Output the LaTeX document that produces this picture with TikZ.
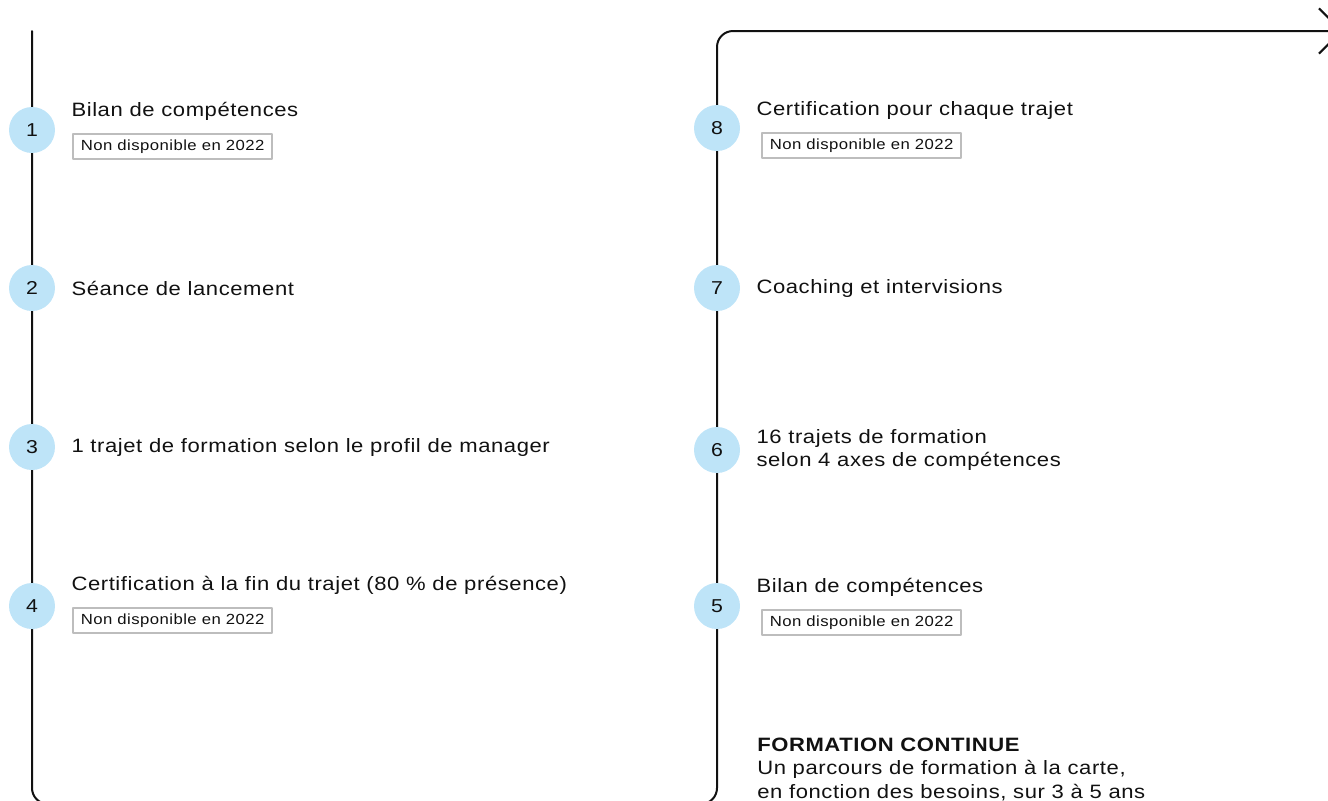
\documentclass[tikz,border=0pt]{standalone}
\usepackage{fontspec}
\setmainfont{Liberation Sans}[FakeStretch=1.14,LetterSpace=3]
\usetikzlibrary{arrows.meta,positioning}
\definecolor{dotblue}{HTML}{BEE4F8}
\definecolor{taggray}{HTML}{BDBDBD}
\definecolor{ink}{HTML}{111111}
\tikzset{
  every picture/.style={line join=round, line cap=round, text=ink},
  track/.style={line width=1.5pt, draw=ink, rounded corners=12pt},
  dot/.style={circle, fill=dotblue, minimum size=34.5pt, inner sep=0pt, font=\fontsize{14}{16}\selectfont},
  itemtext/.style={inner sep=0pt, align=left, font=\fontsize{14.5}{17.25}\selectfont},
  tagbox/.style={draw=taggray, line width=1.3pt, inner xsep=5.8pt, minimum height=18.75pt, font=\fontsize{11}{12}\selectfont},
}
\begin{document}
\begin{tikzpicture}[x=0.75pt,y=-0.75pt]
\useasboundingbox (0,0) rectangle (1328,800);
% the track
\coordinate (start) at (32,31);
\coordinate (tip) at (1343,31);
\draw[track,-{Straight Barb[length=17pt,width=34pt]}] (start) -- (32,804) -- (717,804) -- (717,31) -- (tip);
% left column
\node[dot] (c1) at (32,130) {1};
\node[dot] (c2) at (32,288) {2};
\node[dot] (c3) at (32,447) {3};
\node[dot] (c4) at (32,606) {4};
\node[itemtext,anchor=base west] (t1) at ([xshift=12pt,yshift=10.5pt]c1.east) {Bilan de compétences};
\node[tagbox,below right=12.75pt and 0.75pt of t1.base west,anchor=north west] (n1) {Non disponible en 2022};
\node[itemtext,right=12pt of c2] (t2) {Séance de lancement};
\node[itemtext,right=12pt of c3] (t3) {1 trajet de formation selon le profil de manager};
\node[itemtext,anchor=base west] (t4) at ([xshift=12pt,yshift=12pt]c4.east) {Certification à la fin du trajet (80 \% de présence)};
\node[tagbox,below right=12.75pt and 0.75pt of t4.base west,anchor=north west] (n4) {Non disponible en 2022};
% right column
\node[dot] (c8) at (717,128) {8};
\node[dot] (c7) at (717,288) {7};
\node[dot] (c6) at (717,450) {6};
\node[dot] (c5) at (717,606) {5};
\node[itemtext,anchor=base west] (t8) at ([xshift=12pt,yshift=9.75pt]c8.east) {Certification pour chaque trajet};
\node[tagbox,below right=12.75pt and 3.75pt of t8.base west,anchor=north west] (n8) {Non disponible en 2022};
\node[itemtext,right=12pt of c7] (t7) {Coaching et intervisions};
\node[itemtext,right=12pt of c6] (t6) {16 trajets de formation\\selon 4 axes de compétences};
\node[itemtext,anchor=base west] (t5) at ([xshift=12pt,yshift=10.5pt]c5.east) {Bilan de compétences};
\node[tagbox,below right=12.75pt and 3.75pt of t5.base west,anchor=north west] (n5) {Non disponible en 2022};
% closing note
\node[inner sep=0pt,align=left,anchor=base west,font=\fontsize{14.5}{17.6}\selectfont] (note) at (757,798)
  {\textbf{FORMATION CONTINUE}\\Un parcours de formation à la carte,\\en fonction des besoins, sur 3 à 5 ans};
\end{tikzpicture}
\end{document}
